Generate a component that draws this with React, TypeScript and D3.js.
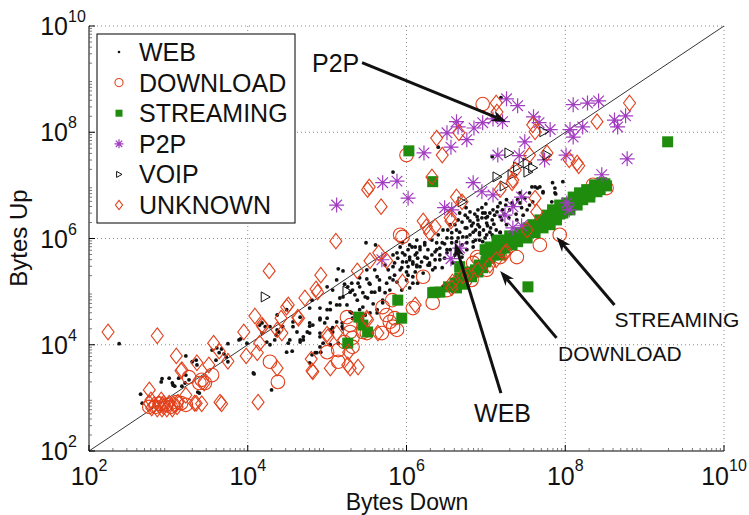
import React from 'react';
import * as d3 from 'd3';

// every point is [log10(bytes down), log10(bytes up)]
const webPts: [number, number][] = [
  [2.38,4.02],[2.65,3.07],[2.67,2.90],[2.91,3.30],[2.92,3.36],[3.01,3.37],[3.05,3.28],[3.06,3.24],[3.13,3.37],[3.17,3.22],
  [3.22,3.43],[3.22,3.79],[3.30,3.68],[3.35,3.71],[3.36,3.62],[3.26,3.34],[3.39,3.09],[3.55,3.90],[3.61,3.94],[3.64,3.85],
  [3.67,3.92],[3.70,3.83],[3.75,4.02],[3.89,4.09],[3.91,4.11],[4.08,3.45],[3.60,3.71],[3.73,3.77],[3.08,3.22],[3.21,3.28],
  [3.37,3.11],[3.75,3.68],[3.99,4.03],[4.07,3.47],[4.18,4.41],[4.22,4.34],[4.24,4.05],[4.28,4.00],[4.30,3.15],[4.36,4.18],
  [4.39,4.24],[4.44,4.34],[4.51,4.03],[4.56,3.88],[4.62,4.24],[4.66,4.09],[4.78,4.35],[4.81,3.81],[4.91,4.15],[4.92,3.86],
  [4.97,4.41],[5.00,4.66],[5.07,4.32],[5.14,4.03],[5.20,4.30],[5.25,4.75],[5.31,4.60],[5.38,4.47],[5.45,4.71],[5.58,4.77],
  [5.63,4.60],[4.78,3.66],
  [5.49,5.92],[5.61,5.88],[5.95,5.92],[5.14,5.43],[5.20,5.39],[5.50,5.24],[5.53,5.16],[5.63,5.28],[5.79,5.26],[5.88,5.18],
  [6.02,5.31],[6.11,5.37],[6.04,5.65],[6.00,5.56],[6.08,5.52],[5.98,5.69],[6.13,5.73],[6.11,5.84],[6.02,5.79],[5.94,5.45],
  [5.00,5.09],[5.07,5.03],[5.16,4.88],[5.26,5.09],[5.32,5.03],[5.41,5.09],[5.45,4.98],[5.60,4.99],[5.66,5.07],[5.73,4.98],
  [5.79,5.03],[5.38,4.84],[5.51,4.88],[5.70,4.79],[5.04,4.79],[5.16,4.75],[5.29,4.62],[5.41,4.66],[5.54,4.60],[4.81,4.84],
  [4.78,4.69],[4.91,4.69],[4.66,4.52],[4.78,4.41],[4.91,4.47],[5.00,4.50],[5.12,4.43],[5.19,4.34],[5.04,4.28],[4.91,4.22],
  [4.78,4.22],[4.57,4.34],[4.53,4.09],[4.66,4.05],[4.37,4.28],[4.34,4.09],[4.49,3.86],[4.57,4.43],[4.37,4.56],[4.49,4.66],
  [4.70,4.15],[4.28,4.34],[4.15,4.37],[4.18,4.22],[4.91,3.96],[4.85,3.85],[5.04,4.00],[5.88,5.73],[5.83,5.47],[5.95,5.56],
  [5.50,5.41],[5.31,5.16],[5.12,5.22],[6.04,5.07],[6.14,5.16],[6.13,5.47],
  [6.80,6.33],[6.84,6.29],[6.90,6.26],[6.95,6.39],[6.99,6.48],[7.01,6.29],[7.08,6.35],[7.14,6.50],[7.18,6.41],[7.21,6.54],
  [7.05,6.12],[6.92,6.11],[6.84,6.12],[6.76,6.20],[6.71,6.03],[6.63,6.16],[6.57,6.11],[6.51,6.01],[6.57,5.92],[6.45,5.92],
  [6.38,5.79],[6.32,5.69],[6.26,5.63],[6.17,5.79],[6.11,5.69],[6.08,5.56],[6.02,5.47],[6.00,5.37],[5.92,5.41],[6.17,5.47],
  [6.29,5.50],[6.36,5.60],[6.42,5.69],[6.51,5.79],[6.63,5.94],[6.76,5.92],[6.84,5.94],[6.92,5.97],[7.01,6.07],[7.09,6.03],
  [7.18,6.11],[7.26,6.26],[7.39,6.35],[7.43,6.67],[7.47,6.44],[7.52,6.54],[7.55,6.63],[7.59,6.69],[5.77,5.41],[5.85,5.54],
  [5.83,5.69],[5.92,5.84],[6.04,5.88],[6.13,5.97],[6.23,5.88],[5.83,5.22],[5.75,5.16],[5.66,5.03],[5.56,4.99],[5.48,4.90],
  [5.39,5.16],[5.29,4.99],[5.20,4.90],[5.12,4.75],[5.04,4.66],[4.91,4.50],[4.82,4.37],[4.75,4.24],[4.70,4.09],[4.87,3.85],
  [4.95,4.03],[5.07,4.24],[5.19,4.41],[5.32,4.50],[5.48,4.56],[5.63,4.66],[5.70,4.84],
  [5.95,5.73],[6.04,5.60],[6.13,5.50],[6.07,5.84],[6.17,5.84],[6.23,5.92],[6.32,5.97],[6.40,6.07],[6.46,6.16],[6.55,6.26],
  [6.65,6.35],[6.74,6.44],[6.80,6.50],[6.89,6.41],[6.96,6.48],[7.02,6.41],[7.09,6.54],[6.90,6.54],[7.18,6.67],[7.26,6.73],
  [7.33,6.67],[7.43,6.86],[7.55,6.86],[7.62,6.97],[7.72,6.88],[7.87,6.86],[7.87,6.95],[7.97,7.07],[7.58,6.97],[7.68,6.97],
  [6.51,5.73],[6.42,5.60],[6.29,5.54],[6.21,5.35],[6.08,5.28],[6.00,5.22],[6.33,5.41],[6.45,5.45],[6.58,5.54],[6.70,5.65],
  [6.76,5.79],[6.84,5.84],[6.96,5.94],[7.08,6.07],[7.18,6.12],[6.92,6.07],[6.76,6.03],[6.46,5.09],[6.08,5.16],
  [7.88,6.84],[7.83,6.69],[7.89,6.69],[8.13,6.80],[7.78,6.41],[7.72,6.35],[7.19,8.65],[6.40,7.72],[7.08,7.54],[5.83,7.25],
  [7.84,7.05],[7.65,6.95],[7.72,6.86],
  [6.61,6.26],[6.67,6.12],[6.70,6.31],[6.74,6.20],[6.77,6.39],[6.80,6.07],[6.82,6.24],[6.86,6.46],[6.87,6.16],[6.90,6.35],
  [6.92,6.22],[6.95,6.58],[6.97,6.16],[7.00,6.39],[7.02,6.24],[7.05,6.48],[7.06,6.20],[7.10,6.27],[7.11,6.44],[7.13,6.16],
  [7.15,6.60],[7.20,6.35],[7.23,6.46],[7.25,6.63],[7.29,6.39],[7.30,6.54],[7.35,6.61],[7.38,6.46],[7.40,6.73],[7.45,6.58],
  [7.49,6.76],[6.65,6.01],[6.70,5.88],[6.57,6.01],[6.48,5.90],[6.42,5.82],[6.36,5.75],[6.27,5.79],[6.23,5.65],[6.48,5.63],
  [6.55,5.79],[6.61,5.69],[6.38,5.92],[6.52,6.16],[6.67,6.48],[6.75,6.58],[7.00,6.65],[6.87,5.97],[6.99,6.01],[7.11,5.97],
  [6.27,5.50],[6.14,5.63],[6.19,5.56],[6.36,5.45],[5.89,5.63],[5.73,5.50],[5.60,5.41],[5.66,5.22],[5.54,5.14],[5.41,5.26],
  [5.22,5.14],[5.35,4.94],[5.85,5.31],[5.94,5.03],
];

const downloadPts: [number, number][] = [
  [4.28,3.68],[4.38,3.30],[3.42,3.34],[3.46,3.28],[5.00,3.86],[5.14,3.68],[5.29,4.24],[5.32,4.13],[5.45,4.24],[5.69,4.22],
  [3.55,3.43],[3.39,3.28],[3.26,3.39],[5.92,6.07],[5.29,4.37],[5.14,3.90],[5.32,3.96],[5.70,4.71],[5.82,4.84],[5.79,4.43],
  [5.83,4.34],[5.85,4.50],[5.88,4.28],[5.50,4.22],[5.22,4.05],[6.21,5.28],[5.75,4.56],[6.08,4.69],[6.33,4.79],[5.25,4.52],
  [6.63,5.16],[6.84,5.54],[6.92,5.60],[7.18,5.65],[5.95,6.03],[6.89,5.65],[6.82,5.22],[6.96,8.53],[6.00,7.57],[8.37,6.95],
  [8.52,6.95],[8.35,7.01],[6.51,5.03],[6.74,5.22],[7.01,5.41],[7.39,5.65],[7.68,5.88],[7.93,6.07],
  [2.76,2.83],[2.84,2.83],[2.97,2.87],[3.03,2.83],[3.10,2.92],[3.16,2.90],[3.22,2.87],[2.89,2.89],
];

const streamingPts: [number, number][] = [
  [6.36,4.99],[6.53,5.09],[6.61,5.16],[6.67,5.26],[6.75,5.30],[6.80,5.37],[6.87,5.41],[6.92,5.50],[7.00,5.56],[7.05,5.63],
  [7.05,5.84],[7.14,5.94],[7.11,5.75],[7.18,5.69],[7.24,5.82],[7.26,5.97],[7.30,6.05],[7.33,5.88],[7.40,5.94],[7.43,6.11],
  [7.52,6.01],[7.53,6.20],[7.59,6.26],[7.62,6.11],[7.68,6.35],[7.72,6.20],[7.77,6.44],[7.81,6.26],[7.84,6.54],[7.89,6.35],
  [7.93,6.63],[7.97,6.48],[8.02,6.67],[8.06,6.54],[8.10,6.78],[8.15,6.63],[8.18,6.86],[8.22,6.73],[8.27,6.92],[8.31,6.78],
  [8.37,7.01],[8.40,6.88],[8.46,7.05],[8.52,6.99],
  [6.42,4.99],[6.63,5.07],[6.71,5.14],[6.82,5.28],[6.90,5.37],[6.96,5.45],[7.01,5.63],[7.09,5.69],[7.14,5.79],[7.21,5.86],
  [7.37,5.97],[7.47,6.05],[7.55,6.16],[7.65,6.24],[7.74,6.31],[7.84,6.39],[7.93,6.46],[8.02,6.54],[8.12,6.65],[8.21,6.75],
  [8.31,6.86],[8.44,6.92],[8.50,7.03],[7.15,5.97],[6.99,5.79],
  [5.26,4.03],[5.40,4.52],[5.45,4.37],[5.51,4.24],[5.89,4.84],[5.94,4.50],[6.33,4.98],[6.67,5.47],[7.53,5.09],[6.03,7.65],
  [6.33,7.07],[9.29,7.82],
];

const p2pPts: [number, number][] = [
  [7.26,8.63],[7.40,8.50],[6.63,8.20],[6.65,8.10],[6.51,7.99],[6.85,8.08],[6.96,8.18],[7.09,8.25],[7.21,8.20],[7.60,8.29],
  [7.67,8.18],[7.81,8.05],[8.06,8.05],[8.10,7.91],[8.22,8.10],[8.10,8.52],[8.28,8.55],[8.42,8.59],[8.62,8.23],[8.76,8.31],
  [8.66,8.10],[6.56,7.72],[6.76,7.86],[6.22,7.61],[7.15,7.57],[7.42,7.56],[7.49,7.82],[7.74,7.48],[8.01,7.57],[8.78,7.50],
  [8.46,7.20],[5.70,7.05],[5.88,7.08],[6.02,6.76],[6.84,7.05],[6.95,6.88],[7.09,6.82],[7.45,6.78],[6.48,6.58],[6.57,6.54],
  [8.02,6.67],[8.05,6.54],[5.12,6.63],[5.69,5.60],[6.67,5.82],[6.56,5.62],[7.24,6.44],[7.34,6.60],[7.34,6.20],[7.45,6.24],
];

const voipPts: [number, number][] = [
  [7.73,8.01],[7.29,7.61],[7.52,7.42],[7.53,7.25],[7.59,7.33],[7.14,7.16],[7.23,6.99],[7.77,7.57],[7.40,7.35],[7.33,7.20],
  [6.70,6.69],[4.22,4.90],[5.25,5.01],
];

const unknownPts: [number, number][] = [
  [2.24,4.24],[2.86,4.17],[3.10,3.79],[3.57,4.03],[3.64,3.88],[3.75,3.69],[3.95,4.24],[4.09,4.54],[3.98,3.79],[4.18,4.37],
  [4.37,4.28],[4.43,4.22],[4.49,4.71],[4.63,4.52],[2.76,3.15],[3.16,3.51],[3.22,3.05],[3.33,2.90],[3.42,2.89],[3.67,2.89],
  [3.65,2.92],[4.13,2.92],[4.37,3.56],[4.80,3.73],[4.81,3.51],[5.04,3.56],[5.01,4.15],[5.26,3.62],[5.39,3.58],[5.12,4.22],
  [5.50,4.50],[5.68,6.60],[5.51,6.92],[5.11,5.95],[4.27,5.39],[4.92,5.31],[5.38,5.39],[5.54,5.58],[5.75,5.58],[5.65,5.73],
  [4.86,5.05],[4.88,4.99],[4.72,4.88],[4.51,4.75],[4.64,4.50],[4.42,4.50],[4.19,4.34],[5.00,4.20],[5.64,4.22],[5.51,4.47],
  [5.27,3.86],[4.15,4.03],[4.12,3.85],[5.95,5.18],[6.11,4.75],[4.82,3.49],[5.29,3.56],[6.21,6.33],[6.25,6.22],[6.36,6.22],
  [6.56,6.33],[7.64,6.50],[7.52,6.16],[7.26,5.75],[7.13,5.60],[7.05,5.50],[6.90,5.41],[6.58,5.18],[6.71,5.30],[6.45,7.57],
  [6.32,7.16],[6.63,6.78],[6.70,6.69],[6.55,6.39],[6.29,6.11],[7.18,6.92],[7.33,7.05],[7.62,6.76],[7.24,5.73],[6.77,5.31],
  [6.57,5.07],[7.13,8.55],[7.14,8.38],[6.38,7.89],[6.66,7.99],[5.53,6.97],[7.34,7.10],[7.37,7.29],[7.59,8.14],[7.62,8.01],
  [7.77,7.61],[7.55,7.57],[8.05,7.48],[8.15,7.42],[8.17,7.37],[8.40,8.20],[8.81,8.55],
  [2.76,2.90],[2.82,2.87],[2.88,2.89],[2.94,2.83],[3.01,2.90],[3.07,2.87],[2.79,2.81],[2.86,2.79],[2.92,2.79],[2.98,2.79],
  [3.05,2.79],[3.11,2.83],[2.78,2.96],[2.91,2.96],[3.17,3.53],[3.36,3.66],[3.51,3.62],[3.45,3.28],[3.35,2.90],[3.12,2.92],
  [2.94,2.90],
];

const legendNames = ['WEB', 'DOWNLOAD', 'STREAMING', 'P2P', 'VOIP', 'UNKNOWN'];
const exponents = [2, 4, 6, 8, 10];

// annotation text and arrows: [label, text position, arrow tail, arrow head, font size, anchor]
const notes: [string, [number, number], [number, number], [number, number], number, string][] = [
  ['P2P', [4.81, 9.14], [5.44, 9.31], [7.26, 8.20], 25, 'start'],
  ['WEB', [7.21, 2.55], [7.19, 3.09], [6.61, 5.92], 25, 'middle'],
  ['DOWNLOAD', [7.91, 3.69], [7.89, 4.13], [7.18, 5.39], 21, 'start'],
  ['STREAMING', [8.62, 4.34], [8.62, 4.75], [7.89, 6.03], 21, 'start'],
];

const RED = '#e3401b';
const GREEN = '#1f8c0e';
const PURPLE = '#a23cc0';
const FONT = '"Liberation Sans", Arial, Helvetica, sans-serif';

const left = 89, right = 724, top = 26, bottom = 451;

function Marker({ kind, x, y, small }: { kind: number; x: number; y: number; small?: boolean }) {
  const k = small ? 0.6 : 1;
  if (kind === 0) return <circle cx={x} cy={y} r={small ? 1.3 : 1.9} fill="#111" />;
  if (kind === 1) return <circle cx={x} cy={y} r={6.8 * k} fill="none" stroke={RED} strokeWidth={1.1} />;
  if (kind === 2) {
    const s = small ? 7 : 11;
    return <rect x={x - s / 2} y={y - s / 2} width={s} height={s} fill={GREEN} />;
  }
  if (kind === 3) {
    const a = 7.5 * k, b = 5.3 * k;
    return (
      <path
        d={`M${x - a},${y}H${x + a}M${x},${y - a}V${y + a}M${x - b},${y - b}L${x + b},${y + b}M${x - b},${y + b}L${x + b},${y - b}`}
        stroke={PURPLE} strokeWidth={1.2} fill="none" />
    );
  }
  if (kind === 4) {
    return <path d={`M${x - 4 * k},${y - 5 * k}L${x + 5 * k},${y}L${x - 4 * k},${y + 5 * k}Z`} fill="none" stroke="#111" strokeWidth={1} />;
  }
  return <path d={`M${x},${y - 7.8 * k}L${x + 6 * k},${y}L${x},${y + 7.8 * k}L${x - 6 * k},${y}Z`} fill="none" stroke={RED} strokeWidth={1.1} />;
}

export default function App() {
  const x = d3.scaleLog().domain([1e2, 1e10]).range([left, right]);
  const y = d3.scaleLog().domain([1e2, 1e10]).range([bottom, top]);
  const px = (p: [number, number]) => x(Math.pow(10, p[0]));
  const py = (p: [number, number]) => y(Math.pow(10, p[1]));

  const series = [webPts, downloadPts, streamingPts, p2pPts, voipPts, unknownPts];

  const minor: number[] = [];
  for (let e = 2; e < 10; e++) for (let m = 2; m <= 9; m++) minor.push(m * Math.pow(10, e));

  const diag = d3.line<number>().x(v => x(v)).y(v => y(v))([1e2, 1e10]) || '';

  return (
    <svg width={749} height={515} style={{ position: 'absolute', left: 0, top: 0, background: '#fff' }} fontFamily={FONT}>
      <rect width={749} height={515} fill="#fff" />
      {/* dotted grid */}
      {exponents.slice(1).map(e => (
        <g key={'g' + e}>
          <line x1={x(Math.pow(10, e))} x2={x(Math.pow(10, e))} y1={top} y2={bottom} stroke="#888" strokeDasharray="1,3" />
          <line x1={left} x2={right} y1={y(Math.pow(10, e))} y2={y(Math.pow(10, e))} stroke="#888" strokeDasharray="1,3" />
        </g>
      ))}
      {/* axes with log ticks */}
      <line x1={left} x2={left} y1={top} y2={bottom} stroke="#000" />
      <line x1={left} x2={right} y1={bottom} y2={bottom} stroke="#000" />
      {minor.map(v => (
        <g key={'m' + v} stroke="#555" strokeWidth={0.8}>
          <line x1={left} x2={left + 3} y1={y(v)} y2={y(v)} />
          <line x1={x(v)} x2={x(v)} y1={bottom} y2={bottom - 3} />
        </g>
      ))}
      {exponents.map(e => (
        <g key={'t' + e} stroke="#000">
          <line x1={left} x2={left + 6} y1={y(Math.pow(10, e))} y2={y(Math.pow(10, e))} />
          <line x1={x(Math.pow(10, e))} x2={x(Math.pow(10, e))} y1={bottom} y2={bottom - 6} />
        </g>
      ))}
      {/* tick labels */}
      {exponents.map(e => (
        <g key={'yl' + e} fill="#111">
          <text x={68} y={y(Math.pow(10, e)) + 9} fontSize={25} textAnchor="end">10</text>
          <text x={68} y={y(Math.pow(10, e)) - 4} fontSize={16}>{e}</text>
        </g>
      ))}
      {exponents.map(e => (
        <text key={'xl' + e} x={x(Math.pow(10, e))} y={485} fontSize={25} textAnchor="middle" fill="#111">
          10<tspan dy={-14} fontSize={16}>{e}</tspan>
        </text>
      ))}
      <text x={407} y={510} fontSize={23} textAnchor="middle" fill="#111">Bytes Down</text>
      <text transform="translate(27,238) rotate(-90)" fontSize={24} textAnchor="middle" fill="#111">Bytes Up</text>

      {/* y = x reference */}
      <path d={diag} stroke="#000" strokeWidth={0.8} fill="none" />

      {/* scatter */}
      {series.map((pts, k) => (
        <g key={'s' + k}>
          {pts.map((p, i) => <Marker key={i} kind={k} x={px(p)} y={py(p)} />)}
        </g>
      ))}

      {/* annotations */}
      {notes.map(([label, tp, tail, head, fs, anchor]) => {
        const x1 = px(tail), y1 = py(tail), x2 = px(head), y2 = py(head);
        const ang = Math.atan2(y2 - y1, x2 - x1);
        const len = 15, half = 5.5;
        const bx = x2 - len * Math.cos(ang), by = y2 - len * Math.sin(ang);
        const nx = x2 - len * 0.7 * Math.cos(ang), ny = y2 - len * 0.7 * Math.sin(ang);
        const ox = -Math.sin(ang) * half, oy = Math.cos(ang) * half;
        return (
          <g key={label}>
            <line x1={x1} y1={y1} x2={nx} y2={ny} stroke="#111" strokeWidth={3} />
            <path d={`M${x2},${y2}L${bx + ox},${by + oy}L${nx},${ny}L${bx - ox},${by - oy}Z`} fill="#111" />
            <text x={px(tp)} y={py(tp)} fontSize={fs} textAnchor={anchor} fill="#111">{label}</text>
          </g>
        );
      })}

      {/* legend */}
      <rect x={97} y={34} width={198} height={189} fill="#fff" stroke="#000" strokeWidth={1} />
      {legendNames.map((name, i) => (
        <g key={name}>
          <Marker kind={i} x={119} y={52 + i * 30.6} small />
          <text x={139} y={52 + i * 30.6 + 9} fontSize={25} fill="#111">{name}</text>
        </g>
      ))}
    </svg>
  );
}
